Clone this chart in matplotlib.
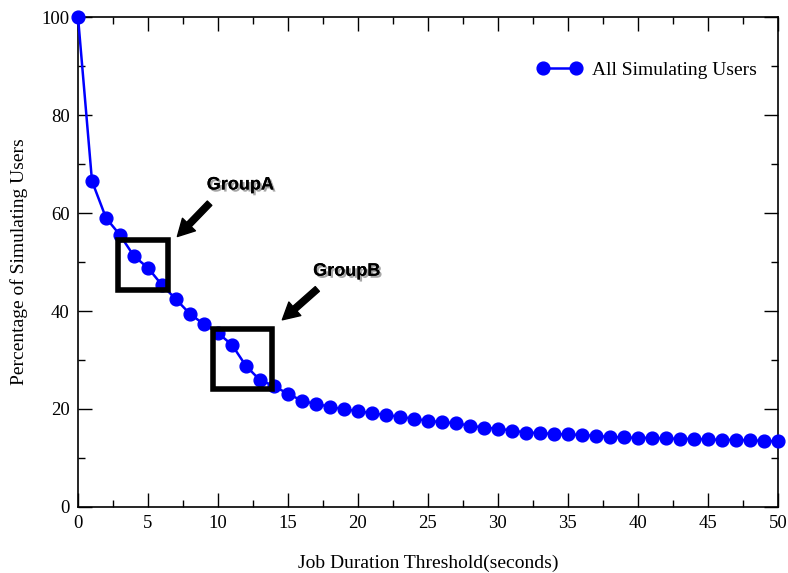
import matplotlib.pyplot as plt
import matplotlib.patches as patches
import matplotlib.patheffects as pe
from matplotlib.ticker import MultipleLocator

# share of simulating users whose jobs exceed each duration threshold
thresholds = list(range(0, 51))
pct_users = [100.0, 66.5, 59.0, 55.5, 51.2, 48.8, 45.3, 42.4, 39.4, 37.3,
             35.5, 33.1, 28.8, 25.9, 24.7, 23.1, 21.7, 21.0, 20.5, 19.9,
             19.6, 19.1, 18.8, 18.4, 18.0, 17.6, 17.3, 17.1, 16.6, 16.2,
             16.0, 15.6, 15.2, 15.1, 14.9, 14.8, 14.7, 14.5, 14.3, 14.2,
             14.1, 14.1, 14.0, 13.9, 13.9, 13.8, 13.7, 13.7, 13.6, 13.5, 13.4]

# highlighted groups: (x0, x1, y0, y1)
group_boxes = {'GroupA': (2.86, 6.43, 44.3, 54.5),
               'GroupB': (9.64, 13.86, 24.1, 36.3)}

plt.rcParams['font.family'] = 'Liberation Serif'

fig = plt.figure(figsize=(7.88, 5.73), dpi=100)
ax = fig.add_axes([0.099, 0.1152, 0.888, 0.8551])

ax.plot(thresholds, pct_users, '-o', color='#0000ff', linewidth=1.8,
        markersize=9.2, label='All Simulating Users', clip_on=False, zorder=3)

ax.set_xlim(0, 50)
ax.set_ylim(0, 100)
ax.xaxis.set_major_locator(MultipleLocator(5))
ax.xaxis.set_minor_locator(MultipleLocator(2.5))
ax.yaxis.set_major_locator(MultipleLocator(20))
ax.yaxis.set_minor_locator(MultipleLocator(10))
ax.tick_params(which='both', direction='in', top=True, right=True,
               labelsize=13.5, width=1)
ax.tick_params(which='major', length=10, pad=6)
ax.tick_params(which='minor', length=5)
for s in ax.spines.values():
    s.set_linewidth(1.2)

ax.set_xlabel('Job Duration Threshold(seconds)', fontsize=14, labelpad=16)
ax.set_ylabel('Percentage of Simulating Users', fontsize=14, labelpad=10)

for name, (x0, x1, y0, y1) in group_boxes.items():
    ax.add_patch(patches.Rectangle((x0, y0), x1 - x0, y1 - y0, fill=False,
                                   edgecolor='black', linewidth=4, zorder=4))

shadow = [pe.withSimplePatchShadow(offset=(1.5, -1.5), alpha=0.35), pe.Normal()]
arrow = dict(arrowstyle='simple,head_length=1.2,head_width=1.3,tail_width=0.45',
             fc='black', ec='black', shrinkA=0, shrinkB=0)

ax.annotate('', xy=(7.1, 55.2), xytext=(9.4, 62.0), arrowprops=arrow, zorder=5)
ax.text(9.2, 64.8, 'GroupA', fontsize=13, fontweight='bold',
        family='Liberation Sans', path_effects=shadow)

ax.annotate('', xy=(14.6, 38.2), xytext=(17.1, 44.5), arrowprops=arrow, zorder=5)
ax.text(16.8, 47.2, 'GroupB', fontsize=13, fontweight='bold',
        family='Liberation Sans', path_effects=shadow)

ax.legend(loc='upper right', frameon=False, fontsize=14, numpoints=2,
          bbox_to_anchor=(0.995, 0.945), handlelength=2.3, handletextpad=0.5)

fig.savefig('out.png', dpi=100)
